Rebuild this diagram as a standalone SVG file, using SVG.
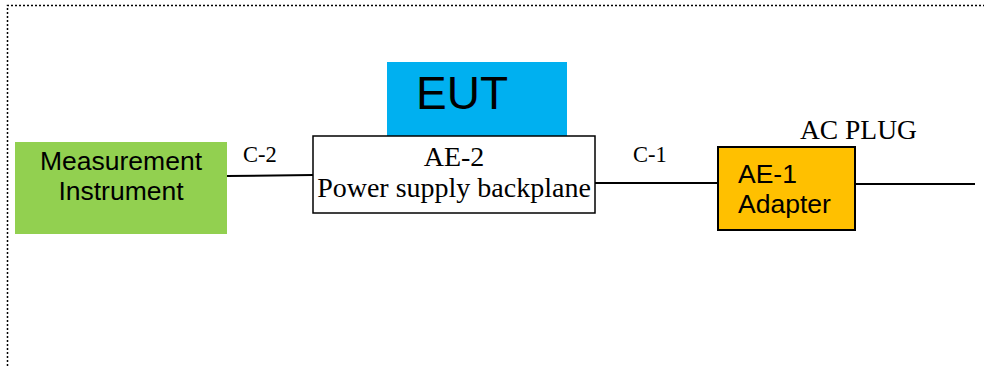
<svg xmlns="http://www.w3.org/2000/svg" width="984" height="366" viewBox="0 0 984 366">
<style>
.sans{font-family:"Liberation Sans",Arial,sans-serif;fill:#000}
.serif{font-family:"Liberation Serif","Times New Roman",serif;fill:#000}
.wire{stroke:#000;stroke-width:2;fill:none}
.frame{stroke:#000;stroke-width:1.5;fill:none;stroke-dasharray:2 2}
</style>
<rect width="984" height="366" fill="#fff"/>
<path class="frame" d="M7.5 366 V5.5 H984"/>
<g id="connectors">
<line class="wire" x1="227" y1="176" x2="313" y2="175"/>
<line class="wire" x1="595" y1="183" x2="718" y2="183"/>
<line class="wire" x1="855" y1="184" x2="975" y2="184"/>
<text class="serif" x="243" y="162" font-size="22.5">C-2</text>
<text class="serif" x="633" y="162" font-size="22.5">C-1</text>
<text class="serif" x="800" y="139" font-size="27.5">AC PLUG</text>
</g>
<g id="measurement">
<rect x="15" y="142" width="212" height="92" fill="#92D050"/>
<text class="sans" x="121" y="170" font-size="26.5" text-anchor="middle">Measurement</text>
<text class="sans" x="121" y="200" font-size="26.5" text-anchor="middle">Instrument</text>
</g>
<g id="eut">
<rect x="387" y="62" width="180" height="74" fill="#00B0F0"/>
<text class="sans" x="416" y="109" font-size="46">EUT</text>
</g>
<g id="ae2">
<rect x="313" y="136" width="282" height="77" fill="#fff" stroke="#000" stroke-width="1.5"/>
<text class="serif" x="454" y="166" font-size="28" text-anchor="middle">AE-2</text>
<text class="serif" x="454" y="197" font-size="28" text-anchor="middle">Power supply backplane</text>
</g>
<g id="ae1">
<rect x="718" y="147" width="137" height="83" fill="#FFC000" stroke="#000" stroke-width="2"/>
<text class="sans" x="738" y="183" font-size="26.5">AE-1</text>
<text class="sans" x="738" y="213" font-size="26.5">Adapter</text>
</g>
</svg>
